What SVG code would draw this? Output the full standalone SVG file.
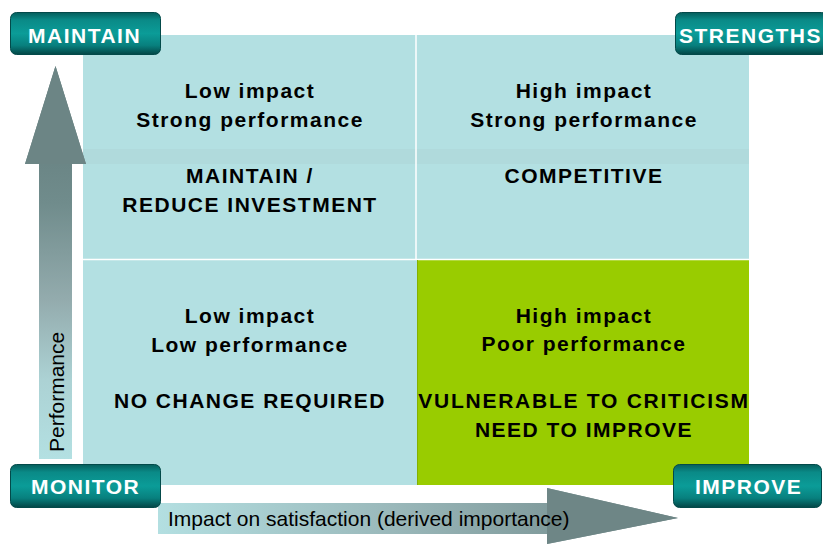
<svg xmlns="http://www.w3.org/2000/svg" width="823" height="545" viewBox="0 0 823 545">
  <defs>
    <linearGradient id="btnFill" x1="0" y1="0" x2="0" y2="1">
      <stop offset="0" stop-color="#055e5c"/>
      <stop offset="0.18" stop-color="#0a8a87"/>
      <stop offset="0.5" stop-color="#0b9c98"/>
      <stop offset="0.78" stop-color="#08807e"/>
      <stop offset="1" stop-color="#034646"/>
    </linearGradient>
    <linearGradient id="upFill" x1="0" y1="0" x2="0" y2="1">
      <stop offset="0" stop-color="#5f7777"/>
      <stop offset="0.35" stop-color="#708c8c"/>
      <stop offset="0.6" stop-color="#94acae"/>
      <stop offset="0.8" stop-color="#acd2d4"/>
      <stop offset="1" stop-color="#b3e0e2"/>
    </linearGradient>
    <linearGradient id="rightFill" x1="0" y1="0" x2="1" y2="0">
      <stop offset="0" stop-color="#b3dfe1"/>
      <stop offset="0.45" stop-color="#9ab8ba"/>
      <stop offset="1" stop-color="#6c8484"/>
    </linearGradient>
    <style>
      .cell { fill: #b3e0e2; }
      .band { fill: #b0dadc; }
      .hot { fill: #99cc00; }
      .divider { stroke: #ffffff; stroke-width: 1.5; }
      .qt { font-family: "Liberation Sans", Arial, sans-serif; font-weight: bold; font-size: 21px; letter-spacing: 1.5px; fill: #000; text-anchor: middle; }
      .axis { font-family: "Liberation Sans", Arial, sans-serif; font-size: 21px; fill: #000; }
      .btn rect { fill: url(#btnFill); stroke: #034a4a; stroke-width: 1; }
      .btn text { font-family: "Liberation Sans", Arial, sans-serif; font-weight: bold; font-size: 21px; letter-spacing: 1.5px; fill: #fff; }
    </style>
  </defs>

  <!-- quadrant background -->
  <g id="grid">
    <rect class="cell" x="83" y="35" width="666" height="450"/>
    <rect class="band" x="83" y="149" width="666" height="15"/>
    <rect class="hot" x="417" y="260" width="332" height="225"/>
    <line class="divider" x1="416" y1="35" x2="416" y2="260"/>
    <line class="divider" x1="83" y1="259.5" x2="749" y2="259.5"/>
    <line x1="417.5" y1="260" x2="417.5" y2="485" stroke="#86b000" stroke-width="1"/>
  </g>

  <!-- quadrant labels -->
  <g id="q-low-strong">
    <text class="qt" x="250" y="98">Low impact</text>
    <text class="qt" x="250" y="127">Strong performance</text>
    <text class="qt" x="250" y="183">MAINTAIN /</text>
    <text class="qt" x="250" y="212">REDUCE INVESTMENT</text>
  </g>
  <g id="q-high-strong">
    <text class="qt" x="584" y="98">High impact</text>
    <text class="qt" x="584" y="127">Strong performance</text>
    <text class="qt" x="584" y="183">COMPETITIVE</text>
  </g>
  <g id="q-low-low">
    <text class="qt" x="250" y="323">Low impact</text>
    <text class="qt" x="250" y="352">Low performance</text>
    <text class="qt" x="250" y="408">NO CHANGE REQUIRED</text>
  </g>
  <g id="q-high-poor">
    <text class="qt" x="584" y="323">High impact</text>
    <text class="qt" x="584" y="351">Poor performance</text>
    <text class="qt" x="584" y="408" style="letter-spacing:1.75px">VULNERABLE TO CRITICISM</text>
    <text class="qt" x="584" y="437">NEED TO IMPROVE</text>
  </g>

  <!-- axis arrows -->
  <g id="connectors">
    <polygon id="axis-performance" fill="url(#upFill)" points="55.5,66 86,164 72,164 72,459 39,459 39,164 25,164"/>
    <polygon id="axis-impact" fill="url(#rightFill)" points="158,503 547,503 547,488 678,518 547,544 547,534 158,534"/>
    <polygon fill="#6c8585" points="55.5,66 86,164 25,164"/>
    <polygon fill="#6e8686" points="547,488 678,518 547,544"/>
  </g>
  <text class="axis" transform="translate(64,452) rotate(-90)">Performance</text>
  <text class="axis" x="168" y="526">Impact on satisfaction (derived importance)</text>

  <!-- corner buttons -->
  <g id="btn-maintain" class="btn">
    <rect x="10.5" y="12.5" width="150" height="42" rx="6"/>
    <text x="28" y="43">MAINTAIN</text>
  </g>
  <g id="btn-strengths" class="btn">
    <rect x="675.5" y="12.5" width="152" height="42" rx="6"/>
    <text x="679" y="43">STRENGTHS</text>
  </g>
  <g id="btn-monitor" class="btn">
    <rect x="10.5" y="464.5" width="150" height="43" rx="6"/>
    <text x="31" y="494">MONITOR</text>
  </g>
  <g id="btn-improve" class="btn">
    <rect x="673.5" y="464.5" width="148" height="43" rx="6"/>
    <text x="695" y="494">IMPROVE</text>
  </g>
</svg>
